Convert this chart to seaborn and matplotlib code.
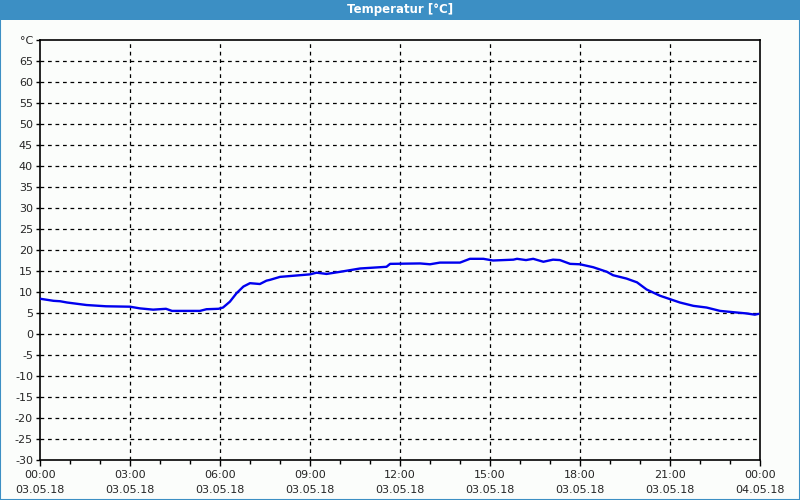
import numpy as np
import pandas as pd
import matplotlib
matplotlib.use("Agg")
import matplotlib.pyplot as plt
import seaborn as sns
from matplotlib.ticker import MultipleLocator

# Data (hour of day, temperature °C)
hours = [0.0, 0.45, 0.67, 0.9, 1.55, 2.2, 3.0, 3.33, 3.77, 4.2, 4.4, 5.33, 5.55, 5.95,
         6.1, 6.33, 6.55, 6.78, 7.0, 7.33, 7.55, 7.67, 8.0, 8.67, 9.0, 9.22, 9.55, 10.0,
         10.67, 11.55, 11.67, 12.67, 13.0, 13.33, 14.0, 14.33, 14.78, 15.1, 15.78, 15.9,
         16.2, 16.44, 16.78, 17.1, 17.33, 17.67, 18.0, 18.44, 18.9, 19.1, 19.55, 19.9,
         20.22, 20.67, 21.0, 21.33, 21.78, 22.22, 22.67, 23.1, 23.55, 23.83, 23.95]
temps = [8.4, 7.9, 7.8, 7.5, 6.9, 6.6, 6.5, 6.1, 5.8, 6.0, 5.5, 5.5, 5.9, 6.0,
         6.3, 7.7, 9.7, 11.3, 12.1, 11.9, 12.7, 12.9, 13.6, 14.0, 14.2, 14.6, 14.3, 14.8,
         15.6, 16.0, 16.7, 16.8, 16.6, 17.0, 17.0, 17.9, 17.9, 17.5, 17.7, 17.9,
         17.6, 17.9, 17.2, 17.7, 17.6, 16.7, 16.6, 15.9, 14.8, 14.0, 13.2, 12.3,
         10.6, 9.1, 8.3, 7.5, 6.7, 6.3, 5.5, 5.2, 4.9, 4.6, 4.8]

x_ticks = [0, 3, 6, 9, 12, 15, 18, 21, 24]
x_labels = ["00:00\n03.05.18", "03:00\n03.05.18", "06:00\n03.05.18", "09:00\n03.05.18",
            "12:00\n03.05.18", "15:00\n03.05.18", "18:00\n03.05.18", "21:00\n03.05.18",
            "00:00\n04.05.18"]
y_ticks = list(range(-30, 75, 5))
y_labels = [str(v) for v in y_ticks[:-1]] + ["°C"]
title = "Temperatur [°C]"

df = pd.DataFrame({"hour": hours, "temp": temps})

sns.set_style("white")
plt.rcParams["font.family"] = ["DejaVu Sans"]

bg = "#fbfdfb"
fig = plt.figure(figsize=(8, 5), dpi=100, facecolor=bg)
ax = fig.add_axes([0.05, 0.08, 0.9, 0.84])
ax.set_facecolor(bg)

# grid lines
for xv in x_ticks[1:-1]:
    ax.axvline(xv, color="black", lw=0.9, ls=(0, (3, 3)), zorder=1)
for yv in y_ticks[1:-1]:
    ax.axhline(yv, color="black", lw=0.9, ls=(0, (3, 3)), zorder=1)

sns.lineplot(data=df, x="hour", y="temp", ax=ax, color="#0000ee", lw=1.7, zorder=3)

ax.set_xlim(0, 24)
ax.set_ylim(-30, 70)
ax.set_xticks(x_ticks)
ax.set_xticklabels(x_labels, fontsize=8, linespacing=1.7)
ax.xaxis.set_minor_locator(MultipleLocator(1))
ax.set_yticks(y_ticks)
ax.set_yticklabels(y_labels, fontsize=8)
ax.tick_params(axis="x", which="major", length=4, width=1, color="black", pad=3, bottom=True)
ax.tick_params(axis="x", which="minor", length=3, width=1, color="black", bottom=True)
ax.tick_params(axis="y", which="major", length=3, width=1, color="black", pad=2, left=True)
ax.set_xlabel("")
ax.set_ylabel("")
for s in ax.spines.values():
    s.set_visible(True)
    s.set_color("black")
    s.set_linewidth(1.2)

# title bar and border
bar_color = "#3c8fc4"
fig.patches.append(plt.Rectangle((0, 0.96), 1, 0.04, transform=fig.transFigure,
                                 facecolor=bar_color, edgecolor="none", zorder=0))
fig.patches.append(plt.Rectangle((0.0006, 0.001), 0.9988, 0.998, transform=fig.transFigure,
                                 facecolor="none", edgecolor=bar_color, lw=1.5, zorder=5))
fig.text(0.5, 0.98, title, color="white", fontsize=8.5, fontweight="bold",
         ha="center", va="center")

fig.savefig("out.png", dpi=100, facecolor=bg)
